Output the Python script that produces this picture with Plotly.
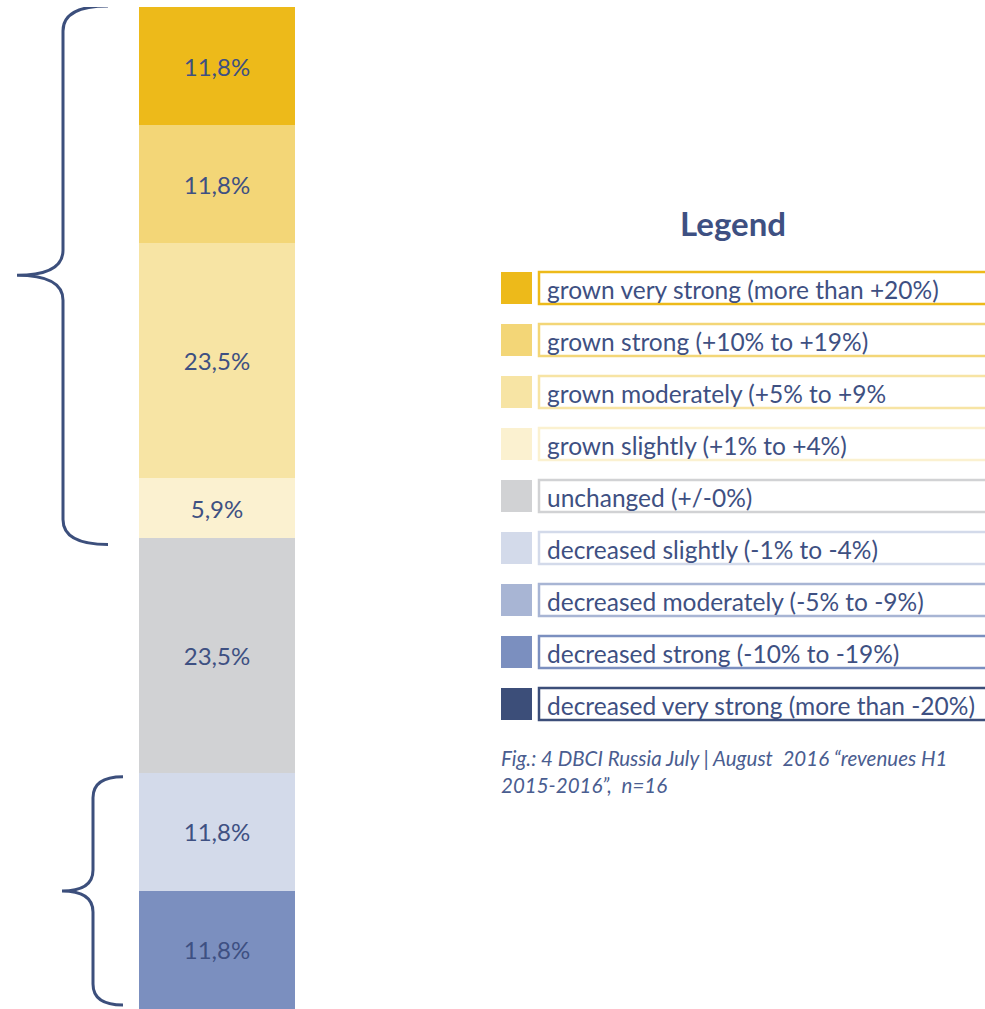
import plotly.graph_objects as go

# ---------------- data ----------------
categories = [
    "grown very strong (more than +20%)",
    "grown strong (+10% to +19%)",
    "grown moderately (+5% to +9%",
    "grown slightly (+1% to +4%)",
    "unchanged (+/-0%)",
    "decreased slightly (-1% to -4%)",
    "decreased moderately (-5% to -9%)",
    "decreased strong (-10% to -19%)",
    "decreased very strong (more than -20%)",
]
shares = [11.8, 11.8, 23.5, 5.9, 23.5, 11.8, 0.0, 11.8, 0.0]
groups = ["grown"] * 4 + ["unchanged"] + ["decreased"] * 4
legend_title = "Legend"
caption_lines = [
    "Fig.: 4 DBCI Russia July | August  2016 \u201crevenues H1",
    "2015-2016\u201d,  n=16",
]

# ---------------- styles ----------------
colors = ["#EDBA1A", "#F3D677", "#F7E4A4", "#FBF1D0", "#D1D2D4",
          "#D3DAEA", "#A8B5D4", "#7B8FBF", "#3C4E79"]
TEXT = "#3E5082"
BRACE = "#3C4F7C"
FONT = "Lato"
W, H = 985, 1009
TOP, BOT = 7, 0

total = sum(shares)
fig = go.Figure()

# stacked single bar: bottom = last category
for cat, v, c in zip(reversed(categories), reversed(shares), reversed(colors)):
    lab = (f"{v:.1f}".replace(".", ",") + "%") if v > 0 else ""
    fig.add_trace(go.Bar(
        x=[217], y=[v], width=156, name=cat,
        marker=dict(color=c, line=dict(width=0)),
        text=[lab], textposition="inside", insidetextanchor="middle",
        textfont=dict(family=FONT, size=24, color=TEXT),
        textangle=0, hoverinfo="name+y", showlegend=False,
    ))

# ---------------- braces (spanning groups, data coords on y) ----------------
px = total / (H - TOP - BOT)  # % per pixel


def brace(x_end, x_line, x_tip, y_top, y_bot, r):
    y_tip = (y_top + y_bot) / 2
    return (f"M {x_end},{y_top} Q {x_line},{y_top} {x_line},{y_top - r} "
            f"L {x_line},{y_tip + r} Q {x_line},{y_tip} {x_tip},{y_tip} "
            f"Q {x_line},{y_tip} {x_line},{y_tip - r} "
            f"L {x_line},{y_bot + r} Q {x_line},{y_bot} {x_end},{y_bot}")


def span(group):
    cum = 0.0
    bounds = []
    for g, v in zip(reversed(groups), reversed(shares)):
        if g == group:
            bounds.append((cum, cum + v))
        cum += v
    return min(b[0] for b in bounds), max(b[1] for b in bounds)


g_lo, g_hi = span("grown")
d_lo, d_hi = span("decreased")
fig.add_shape(type="path", xref="x", yref="y",
              path=brace(108, 63, 17, g_hi + 1 * px, g_lo - 7 * px, 25 * px),
              line=dict(color=BRACE, width=3))
fig.add_shape(type="path", xref="x", yref="y",
              path=brace(123, 93, 62, d_hi - 4 * px, d_lo + 4 * px, 21 * px),
              line=dict(color=BRACE, width=3))

# ---------------- legend (pixel coords via y2) ----------------
fig.add_annotation(x=733, y=223, xref="x", yref="y2", text=f"<b>{legend_title}</b>",
                   showarrow=False, font=dict(family=FONT, size=33, color=TEXT),
                   xanchor="center", yanchor="middle")
for i, (cat, c) in enumerate(zip(categories, colors)):
    cy = 288 + 52 * i
    fig.add_shape(type="rect", xref="x", yref="y2", x0=501, x1=532,
                  y0=cy - 16, y1=cy + 16, fillcolor=c, line=dict(width=0))
    fig.add_shape(type="rect", xref="x", yref="y2", x0=539, x1=1000,
                  y0=cy - 16, y1=cy + 16, fillcolor="white",
                  line=dict(color=c, width=2.5))
    fig.add_annotation(x=545, y=cy + 1, xref="x", yref="y2", text=cat,
                       showarrow=False, xanchor="left", yanchor="middle",
                       font=dict(family=FONT, size=24.5, color=TEXT))

for j, line in enumerate(caption_lines):
    fig.add_annotation(x=499, y=758 + 27 * j, xref="x", yref="y2",
                       text=f"<i>{line}</i>", showarrow=False,
                       xanchor="left", yanchor="middle",
                       font=dict(family=FONT, size=20.5, color="#4A5D90"))

fig.update_layout(
    width=W, height=H, barmode="stack",
    margin=dict(l=0, r=0, t=TOP, b=BOT, pad=0),
    paper_bgcolor="white", plot_bgcolor="white",
    xaxis=dict(range=[0, W], visible=False, fixedrange=True),
    yaxis=dict(range=[0, total], visible=False, fixedrange=True),
    yaxis2=dict(range=[H - BOT, TOP], overlaying="y", visible=False, fixedrange=True),
    uniformtext=dict(mode=False),
)
# invisible trace so y2 axis is active
fig.add_trace(go.Scatter(x=[0], y=[500], yaxis="y2", mode="markers",
                         marker=dict(opacity=0), hoverinfo="skip", showlegend=False))

fig.write_html("out.html", config={"displayModeBar": False},
               post_script="document.body.style.margin='0';")
